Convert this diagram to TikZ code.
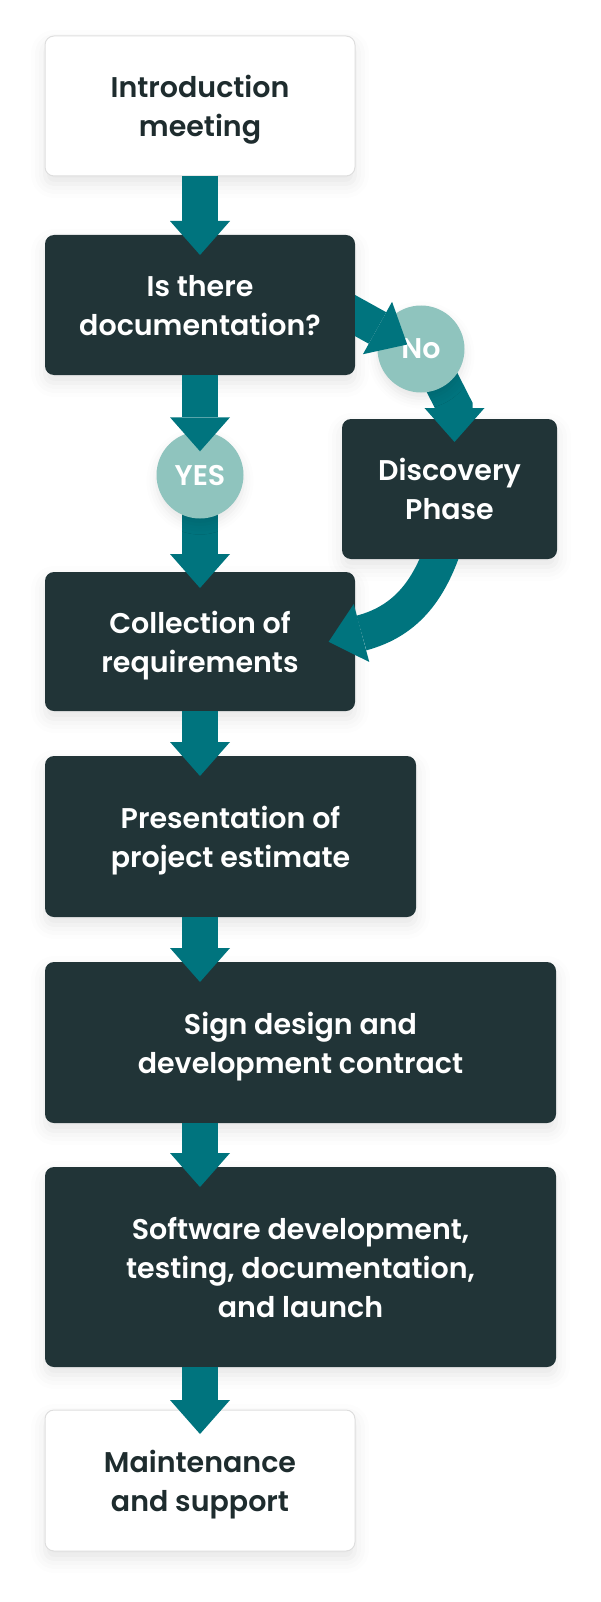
\documentclass[tikz,border=0pt]{standalone}
\usepackage{fontspec}
\setmainfont{Poppins SemiBold}
\usepackage{tikz}
\usetikzlibrary{positioning,arrows.meta,shadows.blur}
\definecolor{ink}{RGB}{30,44,46}
\definecolor{slate}{RGB}{33,52,55}
\definecolor{arrowteal}{RGB}{0,116,126}
\definecolor{mint}{RGB}{143,196,190}
\definecolor{edge}{RGB}{222,222,222}
\pgfdeclarelayer{front}
\pgfsetlayers{main,front}
\tikzset{
  box/.style={rounded corners=9pt, align=center, inner sep=0pt, outer sep=0pt, text depth=0pt, font=\fontsize{28.5}{39}\selectfont,
    blur shadow={shadow xshift=0pt, shadow yshift=-8pt, shadow blur radius=14pt, shadow opacity=10}},
  light/.style={box, fill=white, draw=edge, line width=1pt, text=ink},
  dark/.style={box, fill=slate, text=white},
  badge/.style={circle, fill=mint, text=white, minimum size=87pt, inner sep=0pt, text depth=0pt, font=\fontsize{28.5}{39}\selectfont,
    blur shadow={shadow xshift=0pt, shadow yshift=-6pt, shadow blur radius=10pt, shadow opacity=10}},
  flow/.style={draw=arrowteal, line width=36pt, -{Triangle[width=60pt, length=34pt, line width=0pt]}},
  bentflow/.style={flow, shorten >=-34pt},
}
\begin{document}
\begin{tikzpicture}[x=1pt, y=-1pt]
  \useasboundingbox (0,0) rectangle (600,1602);
  \node[light, minimum width=310pt, minimum height=140pt] (intro) at (200,106) {Introduction\\meeting};
  \node[dark, minimum width=310pt, minimum height=140pt] (docq) at (200,305) {Is there\\documentation?};
  \node[dark, minimum width=215pt, minimum height=140pt] (disc) at (449.5,489) {Discovery\\Phase};
  \node[dark, minimum width=310pt, minimum height=139pt] (coll) at (200,641.5) {Collection of\\requirements};
  \node[dark, minimum width=371pt, minimum height=161pt] (pres) at (230.5,836.5) {Presentation of\\project estimate};
  \node[dark, minimum width=511pt, minimum height=161pt] (sign) at (300.5,1042.5) {Sign design and\\development contract};
  \node[dark, minimum width=511pt, minimum height=200pt] (soft) at (300.5,1267) {Software development,\\testing, documentation,\\and launch};
  \node[light, minimum width=310pt, minimum height=141pt] (maint) at (200,1480.5) {Maintenance\\and support};
  \begin{pgfonlayer}{front}
    \node[badge] (yes) at (200,475) {YES};
    \node[badge] (no) at (421,349) {No};
    \draw[flow] (docq.south) -- ([yshift=-20pt]yes.north);
    \begin{scope}
      \clip (docq.north east) rectangle ([xshift=120pt]docq.south east);
      \draw[bentflow] ([shift={(-22pt,1.7pt)}]docq.east) -- ([shift={(-43.5pt,21pt)}]no.center);
    \end{scope}
  \end{pgfonlayer}
  \draw[flow] (intro.south) -- ([yshift=-20pt]docq.north);
  \draw[flow] (yes.center) -- ([yshift=-16pt]coll.north);
  \draw[bentflow] ([xshift=4pt]no.center) -- ([shift={(5pt,12pt)}]disc.north) -- ([shift={(5pt,11pt)}]disc.north);
  \begin{scope}
    \clip ([xshift=-40pt]disc.south west) rectangle ([shift={(60pt,-140pt)}]disc.south east);
    \draw[bentflow] ([shift={(-3.5pt,19pt)}]disc.south) to[out=-108, in=15] ([shift={(6.5pt,8.5pt)}]coll.east);
  \end{scope}
  \draw[flow] (coll.south) -- ([yshift=-20pt]pres.north -| coll.south);
  \draw[flow] (pres.south -| coll.south) -- ([yshift=-20pt]sign.north -| coll.south);
  \draw[flow] (sign.south -| coll.south) -- ([yshift=-20pt]soft.north -| coll.south);
  \draw[flow] (soft.south -| coll.south) -- ([yshift=-24pt]maint.north);
\end{tikzpicture}
\end{document}
